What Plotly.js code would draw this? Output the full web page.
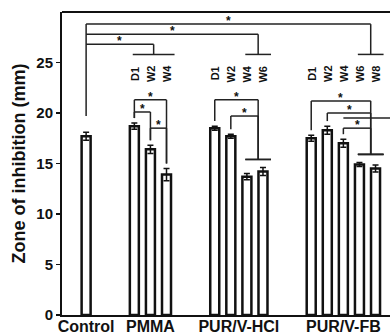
<!DOCTYPE html>
<html>
<head>
<meta charset="utf-8">
<script src="https://cdn.plot.ly/plotly-3.0.1.min.js"></script>
<style>
  html, body { margin: 0; padding: 0; background: #fff; }
  #chart { width: 390px; height: 335px; }
</style>
</head>
<body>
<div id="chart"></div>
<script>
// ---- data ----
const groups = ['Control', 'PMMA', 'PUR/V-HCl', 'PUR/V-FB'];
const timeLabels = [[''], ['D1', 'W2', 'W4'], ['D1', 'W2', 'W4', 'W6'], ['D1', 'W2', 'W4', 'W6', 'W8']];
const means = [[17.7], [18.7, 16.4, 13.9], [18.5, 17.7, 13.7, 14.2], [17.5, 18.3, 17.0, 14.9, 14.5]];
const errors = [[0.4], [0.3, 0.4, 0.6], [0.2, 0.2, 0.3, 0.4], [0.3, 0.4, 0.4, 0.2, 0.35]];
// control vs. group comparisons: [group index, bracket level, first bar of target, last bar of target]
const controlComparisons = [[3, 28.8, 3, 4], [2, 27.8, 2, 3], [1, 26.8, 0, 2]];
// within-group comparisons: [group, from bar, to first bar, to last bar, level]
const groupComparisons = [
  [1, 0, 2, 2, 21.3], [1, 0, 1, 1, 20.1], [1, 1, 2, 2, 18.5],
  [2, 0, 2, 3, 21.3], [2, 1, 2, 3, 19.7],
  [3, 0, 3, 4, 21.2], [3, 1, 3, 4, 20.0], [3, 2, 3, 4, 18.5]
];
const openLine = [3, 2, 19.5]; // group, bar, level (line running off the right edge)
const yTicks = [0, 5, 10, 15, 20, 25];

// ---- layout helpers ----
const GAP = 2;
const starts = [];
let s = 0;
groups.forEach((g, i) => { starts.push(s); s += means[i].length + GAP; });
const pos = (g, i) => starts[g] + i;
const XMAX = 18.9;

const xs = [], ys = [], es = [];
means.forEach((arr, g) => arr.forEach((v, i) => { xs.push(pos(g, i)); ys.push(v); es.push(errors[g][i]); }));
const barTop = (g, i) => means[g][i] + errors[g][i];

const shapes = [];
const annotations = [];
const LC = '#222', LW = 1.5;
function seg(x0, y0, x1, y1) {
  shapes.push({type: 'line', xref: 'x', yref: 'y', x0, y0, x1, y1, line: {color: LC, width: LW}});
}
function star(x, y) {
  annotations.push({x, y, xref: 'x', yref: 'y', text: '*', showarrow: false, yanchor: 'middle', yshift: 3,
    font: {family: 'Liberation Sans, Arial, sans-serif', size: 12, color: '#111', weight: 'bold'}});
}
// short line over a set of bars; returns its midpoint
function groupLine(g, a, b, y) {
  const x0 = pos(g, a) - 0.1, x1 = pos(g, b) + 0.5;
  seg(x0, y, x1, y);
  return (x0 + x1) / 2;
}

// control comparisons
const GROUPLINE_Y = 25.8;
const ctrlX = pos(0, 0);
seg(ctrlX, controlComparisons[0][1], ctrlX, barTop(0, 0) + 1.6);
controlComparisons.forEach(([g, lvl, a, b]) => {
  const mx = groupLine(g, a, b, GROUPLINE_Y);
  seg(ctrlX, lvl, mx, lvl);
  seg(mx, lvl, mx, GROUPLINE_Y);
  star((ctrlX + mx) / 2, lvl);
});

// time-point labels above bars
timeLabels.forEach((arr, g) => arr.forEach((t, i) => {
  if (!t) return;
  annotations.push({x: pos(g, i), y: 23.9, xref: 'x', yref: 'y', text: t, showarrow: false, textangle: -90,
    font: {family: 'Liberation Sans, Arial, sans-serif', size: 11, color: '#111', weight: 'bold'}});
}));

// within-group comparisons
groupComparisons.forEach(([g, f, a, b, lvl]) => {
  const x0 = pos(g, f);
  let x1;
  if (a === b) {
    x1 = pos(g, a);
    seg(x1, lvl, x1, barTop(g, a) + 0.5);
  } else {
    let m = 0;
    for (let k = a; k <= b; k++) m = Math.max(m, barTop(g, k));
    x1 = groupLine(g, a, b, m + 0.8);
    seg(x1, lvl, x1, m + 0.8);
  }
  seg(x0, lvl, x1, lvl);
  seg(x0, lvl, x0, barTop(g, f) + 0.5);
  star((x0 + x1) / 2, lvl);
});
seg(pos(openLine[0], openLine[1]), openLine[2], XMAX, openLine[2]);

// top frame line
shapes.push({type: 'line', xref: 'paper', yref: 'paper', x0: 0, x1: 1, y0: 1, y1: 1, line: {color: '#111', width: 2}});

const tickvals = groups.map((g, i) => starts[i] + (means[i].length - 1) / 2);

const trace = {
  type: 'bar', x: xs, y: ys, width: 0.56,
  marker: {color: '#fff', line: {color: '#111', width: 2.5}},
  error_y: {type: 'data', array: es, visible: true, color: '#111', thickness: 1.5, width: 3},
  hoverinfo: 'none'
};

const layout = {
  width: 390, height: 335,
  margin: {l: 62, r: 0, t: 12, b: 20},
  paper_bgcolor: '#fff', plot_bgcolor: '#fff',
  showlegend: false,
  font: {family: 'Liberation Sans, Arial, sans-serif', color: '#111'},
  xaxis: {
    range: [-1.5, XMAX], tickvals: tickvals, ticktext: groups, ticks: '',
    showline: true, linecolor: '#111', linewidth: 2, showgrid: false, zeroline: false,
    tickfont: {size: 16, weight: 'bold', color: '#111'}, automargin: false, ticklabelstandoff: -4
  },
  yaxis: {
    range: [0, 30], tickvals: yTicks, ticks: 'outside', ticklen: 4, tickwidth: 1.5, tickcolor: '#111',
    showline: true, linecolor: '#111', linewidth: 2, showgrid: false, zeroline: false,
    tickfont: {size: 15, weight: 'bold', color: '#111'}, automargin: false,
    title: {text: 'Zone of inhibition (mm)', font: {size: 18, weight: 'bold', color: '#111'}, standoff: 6}
  },
  shapes, annotations
};

Plotly.newPlot('chart', [trace], layout, {displayModeBar: false, staticPlot: true});
</script>
</body>
</html>
